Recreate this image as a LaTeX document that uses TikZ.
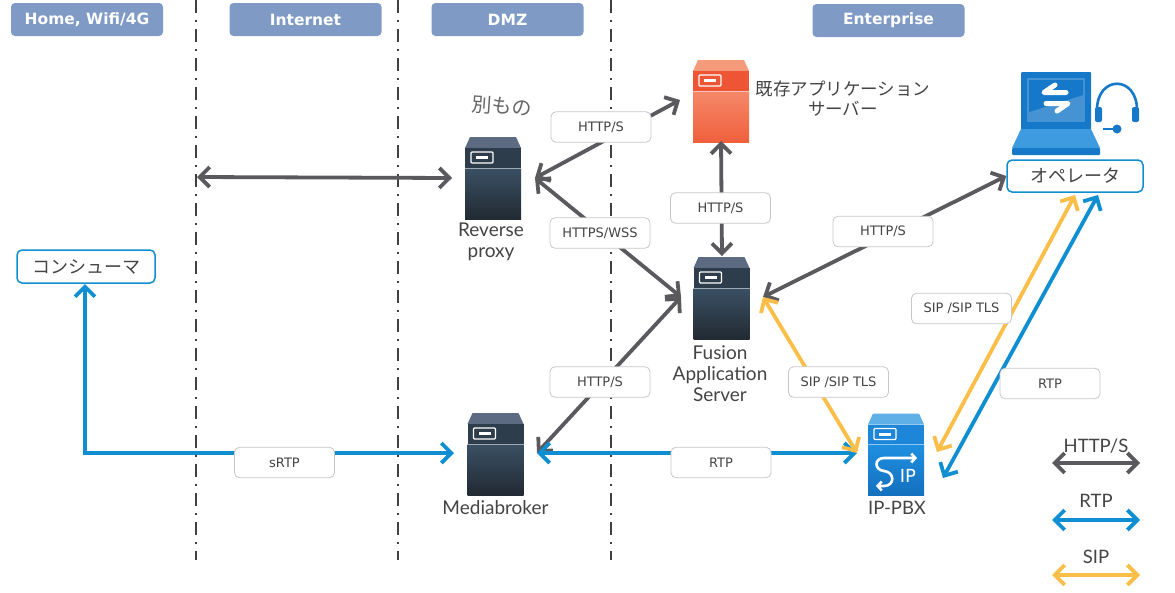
\documentclass[tikz,border=0pt]{standalone}
\usepackage{fontspec}
\setmainfont{Lato}
\newfontfamily\lblfont{DejaVu Sans}
\newfontfamily\cjkfont{Noto Sans CJK JP}
\usetikzlibrary{arrows.meta}
\definecolor{hdr}{HTML}{7E9AC5}
\definecolor{grayarrow}{HTML}{5A5A5E}
\definecolor{bluearrow}{HTML}{0F8FD2}
\definecolor{orangearrow}{HTML}{FBBE48}
\definecolor{txt}{HTML}{444444}
\definecolor{srvtop}{HTML}{5C6B82}
\definecolor{srvup}{HTML}{2E3D4C}
\definecolor{srvlo}{HTML}{3A5064}
\definecolor{srvdk}{HTML}{222A33}
\definecolor{redtop}{HTML}{F59A7A}
\definecolor{redup}{HTML}{EE5534}
\definecolor{redlo}{HTML}{F4886A}
\definecolor{reddk}{HTML}{F0603C}
\definecolor{bluetop}{HTML}{5FB0E6}
\definecolor{blueup}{HTML}{1E86D8}
\definecolor{bluelo}{HTML}{1F8FE0}
\definecolor{bluedk}{HTML}{1470BE}
\definecolor{laptop}{HTML}{1678C8}
\definecolor{laptoplt}{HTML}{3E9BE0}
\tikzset{
  x=1pt,y=-1pt,
  hdrbox/.style={fill=hdr,draw=none,rounded corners=4pt,minimum width=152pt,minimum height=33pt,inner sep=0pt,text=white,font=\lblfont\bfseries\fontsize{15.5}{17}\selectfont},
  lblbox/.style={fill=white,draw=black!22,line width=0.8pt,rounded corners=5pt,minimum width=100pt,minimum height=30.5pt,inner sep=0pt,text=txt,font=\lblfont\fontsize{13}{15}\selectfont},
  actor/.style={fill=white,draw=bluearrow,line width=1.5pt,rounded corners=5pt,minimum width=138pt,minimum height=33pt,inner sep=0pt,text=txt,font=\cjkfont\fontsize{18}{20}\selectfont},
  holder/.style={inner sep=0pt,outer sep=0pt,draw=none},
  captxt/.style={inner sep=0pt,text=txt,align=center,font=\fontsize{19}{21}\selectfont},
  legtxt/.style={inner sep=0pt,text=txt,align=center,font=\fontsize{18.5}{21}\selectfont},
  jptext/.style={inner sep=0pt,text=txt,align=center,font=\cjkfont\fontsize{17.5}{20}\selectfont},
  zone/.style={black!75,line width=1.5pt,dash pattern=on 13pt off 7pt on 2pt off 7pt},
  conn/.style={line width=3.8pt,{Straight Barb[length=10pt,width=20pt,line width=3.8pt]}-{Straight Barb[length=10pt,width=20pt,line width=3.8pt]}},
  http/.style={conn,draw=grayarrow},
  rtp/.style={conn,draw=bluearrow},
  sip/.style={conn,draw=orangearrow},
  pics/server/.style n args={4}{code={
    \fill[#1] (-23,-41) -- (23,-41) -- (28,-30) -- (-28,-30) -- cycle;
    \fill[#2] (-28,-30) rectangle (28,-10);
    \fill[top color=#3,bottom color=#4] (-28,-10) rectangle (28,41);
    \draw[white!50!#3,line width=0.7pt] (-28,-10) -- (28,-10);
    \draw[white,line width=1.2pt,rounded corners=1pt] (-22,-26) rectangle (0,-15);
    \fill[white] (-17,-22) rectangle (-5,-19);
  }}
}
\begin{document}
\begin{tikzpicture}
\useasboundingbox (0,0) rectangle (1175,592);

% zone separators
\coordinate (z1a) at (196,0); \coordinate (z1b) at (196,560);
\coordinate (z2a) at (398,0); \coordinate (z2b) at (398,560);
\coordinate (z3a) at (611,0); \coordinate (z3b) at (611,560);
\draw[zone] (z1a) -- (z1b);
\draw[zone] (z2a) -- (z2b);
\draw[zone] (z3a) -- (z3b);

% headers
\node[hdrbox] (hhome) at (87,19.5) {Home, Wifi/4G};
\node[hdrbox] (hinet) at (305.5,19.5) {Internet};
\node[hdrbox] (hdmz) at (507.5,19.5) {DMZ};
\node[hdrbox] (hent) at (888.5,20.5) {Enterprise};

% icon holders
\node[holder,minimum width=83pt,minimum height=84pt] (rproxy) at (493.5,178) {};
\node[holder,minimum width=82pt,minimum height=84pt] (fusion) at (722,298) {};
\node[holder,minimum width=82pt,minimum height=82pt] (legacy) at (721,100) {};
\node[holder,minimum width=83pt,minimum height=84pt] (media) at (495.5,453) {};
\node[holder,minimum width=82pt,minimum height=84pt] (pbx) at (896,455) {};

% icons
\pic at (493,178) {server={srvtop}{srvup}{srvlo}{srvdk}};
\pic at (721.5,298) {server={srvtop}{srvup}{srvlo}{srvdk}};
\pic at (495.5,454) {server={srvtop}{srvup}{srvlo}{srvdk}};
\pic at (721,101) {server={redtop}{redup}{redlo}{reddk}};
\pic at (896,454.5) {server={bluetop}{blueup}{bluelo}{bluedk}};

% SIP glyph on the PBX
\draw[white,line width=2.6pt,line cap=round,line join=round,-{Straight Barb[length=4pt,width=9pt,line width=2.6pt]}]
  (884,471) .. controls (874,470) and (874,458) .. (884,458) -- (917,458);
\draw[white,line width=2.6pt,line cap=round,line join=round,-{Straight Barb[length=4pt,width=9pt,line width=2.6pt]}]
  (884,471) .. controls (895,472) and (895,486) .. (884,486) -- (876,486);
\node[inner sep=0pt,text=white,font=\lblfont\fontsize{18}{18}\selectfont] (siptxt) at (908,476) {IP};

% laptop and headset
\fill[laptop,rounded corners=1pt] (1021,72) rectangle (1091,130);
\fill[laptop!80!white] (1027,78) rectangle (1085,122);
\fill[laptop] (1029,80) -- (1083,80) -- (1083,95) -- (1029,112) -- cycle;
\fill[laptoplt] (1021,129) -- (1091,129) -- (1100,148) -- (1012,148) -- cycle;
\fill[laptop,rounded corners=1pt] (1012,148) rectangle (1100,155);
\draw[white,line width=5pt,line cap=round,line join=round] (1055,85) -- (1044,92.5) -- (1066,92.5);
\draw[white,line width=5pt,line cap=round,line join=round] (1057,111) -- (1068,103.5) -- (1046,103.5);
\draw[laptop,line width=2.6pt] (1097,110) .. controls (1097,75) and (1137,75) .. (1137,110);
\fill[laptop,rounded corners=2pt] (1095,107) rectangle (1102,122);
\fill[laptop,rounded corners=2pt] (1132,107) rectangle (1139,122);
\fill[laptop] (1117,129) circle[radius=4.5];
\draw[laptop,line width=2pt] (1103,129) -- (1114,129);

% actors
\node[actor] (consumer) at (86,266.5) {コンシューマ};
\node[actor,minimum width=136pt,minimum height=32pt] (operator) at (1075,176) {オペレータ};

% free ends and docking points
\coordinate (inet) at (197,177);
\coordinate (opo) at (1075,195);
\coordinate (opb) at (1098,195);
\coordinate (pbxo) at (937,452);
\coordinate (pbxb) at (943,478);
\coordinate (mediaE) at (537,453);
\coordinate (legA) at (680,100);
\coordinate (fusW) at (681,297);
\coordinate (fusE) at (763,297);
\coordinate (pbxW) at (857,453);
\coordinate (consS) at (85,284);
\coordinate (lg1a) at (1052,463); \coordinate (lg1b) at (1140,463);
\coordinate (lg2a) at (1052,520); \coordinate (lg2b) at (1140,520);
\coordinate (lg3a) at (1052,575); \coordinate (lg3b) at (1140,575);

% connectors
\draw[http] (inet) -- (rproxy.west);
\draw[http] (rproxy.east) -- (legA);
\draw[http] (rproxy.east) -- (fusW);
\draw[http] (legacy.south) -- (fusion.north);
\draw[http] (fusE) -- (operator.west);
\draw[http] (fusW) -- (mediaE);
\draw[rtp] (mediaE) -- (pbxW);
\draw[rtp,line join=miter] (consS) |- (media.west);
\draw[sip] (fusE) -- (pbxW);
\draw[sip] (opo) -- (pbxo);
\draw[rtp] (opb) -- (pbxb);
\draw[http] (lg1a) -- (lg1b);
\draw[rtp] (lg2a) -- (lg2b);
\draw[sip] (lg3a) -- (lg3b);

% connector labels
\node[lblbox] (l1) at (601,127) {HTTP/S};
\node[lblbox] (l2) at (600,233) {HTTPS/WSS};
\node[lblbox] (l3) at (720.5,208) {HTTP/S};
\node[lblbox] (l4) at (883,231.5) {HTTP/S};
\node[lblbox] (l5) at (600,382) {HTTP/S};
\node[lblbox] (l6) at (838.5,382) {SIP /SIP TLS};
\node[lblbox] (l7) at (961.5,308.5) {SIP /SIP TLS};
\node[lblbox] (l8) at (1050,383.5) {RTP};
\node[lblbox] (l9) at (721,462.5) {RTP};
\node[lblbox] (l10) at (284.5,462.5) {sRTP};

% captions
\node[captxt] (t1) at (491,242) {Reverse\\proxy};
\node[captxt] (t2) at (720,374) {Fusion\\Application\\Server};
\node[captxt] (t3) at (495.5,508) {Mediabroker};
\node[legtxt] (t4) at (897,508) {IP-PBX};
\node[jptext] (t5) at (843,99) {既存アプリケーション\\サーバー};
\node[legtxt] (t6) at (1096,446) {HTTP/S};
\node[legtxt] (t7) at (1096,501) {RTP};
\node[legtxt] (t8) at (1096,557) {SIP};
\node[inner sep=0pt,text=black!60,rotate=-4,font=\cjkfont\fontsize{20}{20}\selectfont] (t9) at (502,106) {別もの};
\end{tikzpicture}
\end{document}
